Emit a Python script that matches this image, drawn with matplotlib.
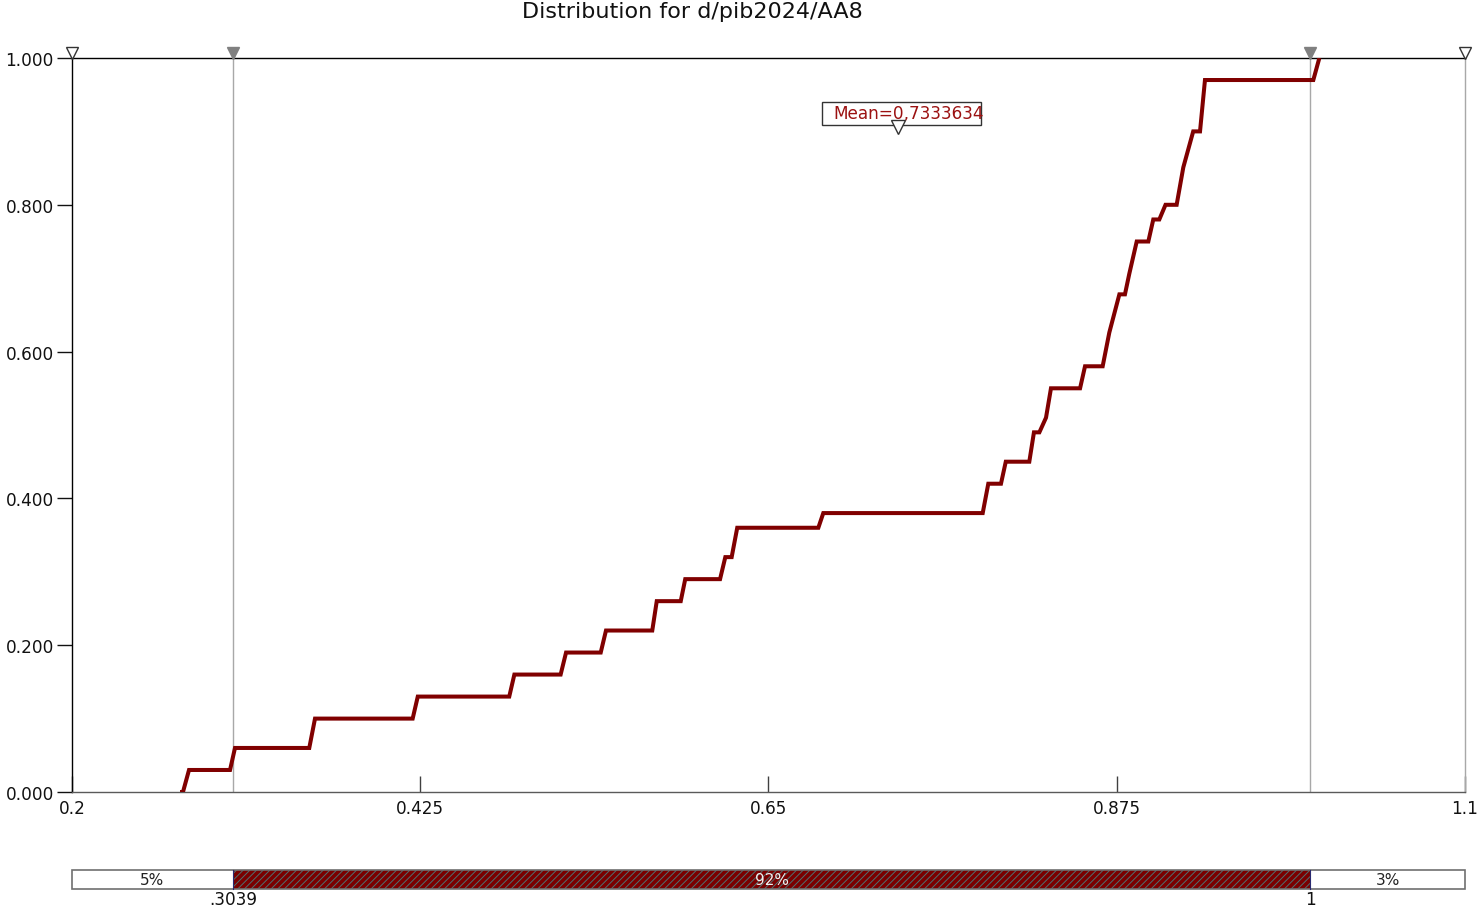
import matplotlib
matplotlib.use("Agg")
import matplotlib.pyplot as plt
import matplotlib.transforms as mtransforms
from matplotlib.patches import Rectangle

# ---------------- data ----------------
title = "Distribution for d/pib2024/AA8"

cdf_x = [0.2698, 0.2717, 0.2756, 0.3021, 0.3053, 0.3533, 0.3570, 0.4201, 0.4234,
         0.4825, 0.4858, 0.5157, 0.5192, 0.5416, 0.5450, 0.5749, 0.5778, 0.5933,
         0.5962, 0.6187, 0.6221, 0.6262, 0.6298, 0.6822, 0.6854, 0.7884, 0.7920,
         0.8002, 0.8033, 0.8185, 0.8215, 0.8250, 0.8293, 0.8325, 0.8513, 0.8545,
         0.8659, 0.8702, 0.8767, 0.8803, 0.8831, 0.8879, 0.8954, 0.8986, 0.9025,
         0.9065, 0.9137, 0.9180, 0.9244, 0.9288, 0.9320, 1.0020, 1.0059]
cdf_y = [0.000, 0.000, 0.030, 0.030, 0.060, 0.060, 0.100, 0.100, 0.130,
         0.130, 0.160, 0.160, 0.190, 0.190, 0.220, 0.220, 0.260, 0.260,
         0.290, 0.290, 0.320, 0.320, 0.360, 0.360, 0.380, 0.380, 0.420,
         0.420, 0.450, 0.450, 0.490, 0.490, 0.510, 0.550, 0.550, 0.580,
         0.580, 0.626, 0.678, 0.678, 0.706, 0.750, 0.750, 0.780, 0.780,
         0.800, 0.800, 0.851, 0.900, 0.900, 0.970, 0.970, 1.000]

x_ticks = [0.2, 0.425, 0.65, 0.875, 1.1]
x_tick_labels = ["0.2", "0.425", "0.65", "0.875", "1.1"]
y_ticks = [0.0, 0.2, 0.4, 0.6, 0.8, 1.0]
y_tick_labels = ["0.000", "0.200", "0.400", "0.600", "0.800", "1.000"]

lower_bound = 0.3039
upper_bound = 1.0
lower_label = ".3039"
upper_label = "1"
pct_labels = ["5%", "92%", "3%"]
mean_value = 0.7333634
mean_label = "Mean=0,7333634"

x_min, x_max = 0.2, 1.1

# ---------------- figure ----------------
W, H = 1482, 912
fig = plt.figure(figsize=(W / 100, H / 100), dpi=100)
fig.patch.set_facecolor("white")

ax = fig.add_axes([72 / W, 119 / H, 1393 / W, 734 / H])
ax.set_xlim(x_min, x_max)
ax.set_ylim(0, 1)

curve_color = "#800000"
ax.plot(cdf_x, cdf_y, color=curve_color, lw=2.9, solid_joinstyle="miter",
        solid_capstyle="butt", zorder=4)

for xv in (lower_bound, upper_bound):
    ax.axvline(xv, color="#a8a8a8", lw=1.0, zorder=2)

for side, col in (("left", "#000000"), ("top", "#000000"),
                  ("bottom", "#5a5a5a"), ("right", "#a8a8a8")):
    ax.spines[side].set_color(col)
    ax.spines[side].set_linewidth(1.0)

ax.set_xticks(x_ticks)
ax.set_xticklabels(x_tick_labels)
ax.set_yticks(y_ticks)
ax.set_yticklabels(y_tick_labels)
ax.tick_params(axis="x", direction="in", length=11.5, width=1.0, color="#404040",
               pad=5, labelsize=12.2, labelcolor="#111111")
ax.tick_params(axis="y", direction="out", length=11, width=1.0, color="#111111",
               pad=2, labelsize=12.2, labelcolor="#111111")

# top markers
off = mtransforms.offset_copy(ax.transData, fig=fig, x=0, y=5.5, units="dots")
ax.plot([x_min, x_max], [1, 1], ls="none", marker="v", ms=8.5, mfc="white",
        mec="#333333", mew=1.0, transform=off, clip_on=False, zorder=5)
ax.plot([lower_bound, upper_bound], [1, 1], ls="none", marker="v", ms=8.5,
        mfc="#808080", mec="#808080", transform=off, clip_on=False, zorder=5)

# mean label
ax.add_patch(Rectangle((0.6846, 0.9087), 0.7873 - 0.6846, 0.9401 - 0.9087,
                       facecolor="white", edgecolor="#333333", lw=1.0, zorder=5))
ax.text(0.6917, 0.9244, mean_label, color="#9b1111", fontsize=12.2,
        ha="left", va="center", zorder=6, clip_on=False)
ax.plot([mean_value], [0.9060], ls="none", marker="v", ms=9.5, mfc="white",
        mec="#333333", mew=1.0, zorder=7)

fig.text(692 / W, 1 - 12 / H, title, ha="center", va="center", fontsize=16,
         color="#111111")

# ---------------- bottom bar ----------------
plt.rcParams["hatch.linewidth"] = 0.7
bx = fig.add_axes([72 / W, 22 / H, 1393 / W, 19 / H])
bx.set_xlim(x_min, x_max)
bx.set_ylim(0, 1)
bx.axis("off")

bx.barh(0.5, lower_bound - x_min, left=x_min, height=1.0, color="white",
        edgecolor="none")
bx.barh(0.5, upper_bound - lower_bound, left=lower_bound, height=1.0,
        color="#7a0000", edgecolor="#4e7070", hatch="/////", linewidth=0)
bx.barh(0.5, x_max - upper_bound, left=upper_bound, height=1.0, color="white",
        edgecolor="none")
bx.add_patch(Rectangle((x_min, 0), x_max - x_min, 1, facecolor="none",
                       edgecolor="#707070", lw=1.2, clip_on=False, zorder=5))
for xv in (lower_bound, upper_bound):
    bx.plot([xv, xv], [0, 1], color="#2a2a70", lw=0.8, clip_on=False, zorder=6)

bx.text((x_min + lower_bound) / 2, 0.5, pct_labels[0], ha="center", va="center",
        fontsize=11, color="#222222")
bx.text((lower_bound + upper_bound) / 2, 0.5, pct_labels[1], ha="center",
        va="center", fontsize=11, color="#f0f0f0")
bx.text((upper_bound + x_max) / 2, 0.5, pct_labels[2], ha="center", va="center",
        fontsize=11, color="#222222")
bx.text(lower_bound, -0.05, lower_label, ha="center", va="top", fontsize=12.2,
        color="#111111", clip_on=False)
bx.text(upper_bound, -0.05, upper_label, ha="center", va="top", fontsize=12.2,
        color="#111111", clip_on=False)

fig.savefig("out.png", dpi=100, facecolor="white")
